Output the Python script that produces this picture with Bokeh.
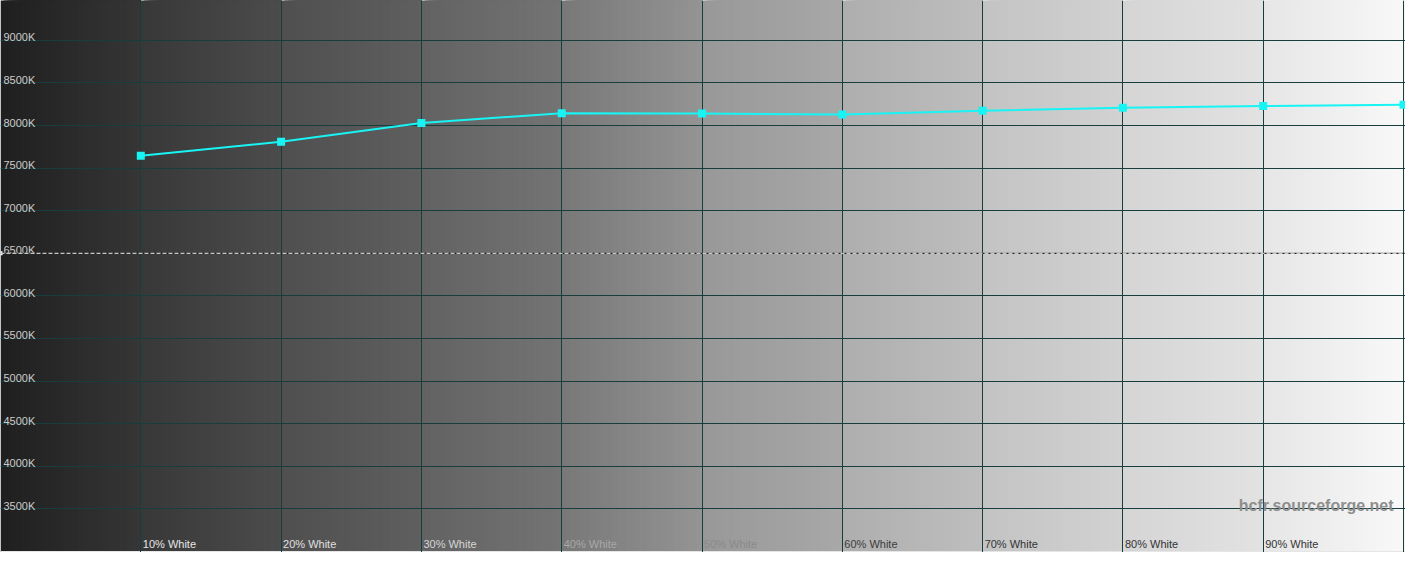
from bokeh.plotting import figure
from bokeh.models import Grid, FixedTicker, Span, ColumnDataSource, Range1d
from bokeh.core.properties import value
from bokeh.embed import file_html
from bokeh.resources import INLINE

# ---- data ----
levels = [10, 20, 30, 40, 50, 60, 70, 80, 90, 100]
cct_k = [7645, 7810, 8030, 8145, 8140, 8130, 8175, 8210, 8228, 8243]
x_ticks = [10, 20, 30, 40, 50, 60, 70, 80, 90, 100]
x_labels = ["10% White", "20% White", "30% White", "40% White", "50% White",
            "60% White", "70% White", "80% White", "90% White"]
y_ticks = [3500, 4000, 4500, 5000, 5500, 6000, 6500, 7000, 7500, 8000, 8500, 9000]
y_labels = ["3500K", "4000K", "4500K", "5000K", "5500K", "6000K", "6500K",
            "7000K", "7500K", "8000K", "8500K", "9000K"]
target_k = 6500
watermark = "hcfr.sourceforge.net"

X0, X1 = 0, 100.14
Y0, Y1 = 2987, 9468

W, H = 1405, 552
p = figure(width=W, height=H, output_backend="svg", toolbar_location=None,
           x_axis_location=None, y_axis_location=None,
           x_range=Range1d(X0, X1), y_range=Range1d(Y0, Y1))
p.min_border = 0
p.outline_line_color = None
p.background_fill_color = "#fafafa"
p.border_fill_color = "#fafafa"

# ---- background: per-band grey gradient (styling only) ----
band_start = [31, 56, 79, 98, 120, 152, 174, 195, 213, 230]
band_end = [54, 76, 95, 116, 148, 168, 190, 210, 226, 248]
lefts, rights, cols = [], [], []
n_slices = 40
for b in range(10):
    g0, g1 = band_start[b], band_end[b]
    for s in range(n_slices):
        l = b * 10 + 10 * s / n_slices
        g = int(round(g0 + (g1 - g0) * (s + 0.5) / n_slices))
        lefts.append(l)
        rights.append((b + 1) * 10 if b < 9 else X1 + 1)
        cols.append("#%02x%02x%02x" % (g, g, g))
bg = p.quad(left=lefts, right=rights, bottom=Y0 - 200, top=Y1 + 200,
            fill_color=cols, line_color=None)
bg.level = "image"

# ---- grid ----
grid_col = "#173d3d"
p.add_layout(Grid(dimension=0, ticker=FixedTicker(ticks=x_ticks),
                  grid_line_color=grid_col, grid_line_width=1))
p.add_layout(Grid(dimension=1, ticker=FixedTicker(ticks=y_ticks),
                  grid_line_color=grid_col, grid_line_width=1))

# target line (6500K) dashed white over dark
p.add_layout(Span(location=target_k, dimension="width", line_color="#1e1e1e",
                  line_width=1))
p.add_layout(Span(location=target_k, dimension="width", line_color="#f2f2f2",
                  line_width=1, line_dash="4 2"))
p.scatter([X0], [target_k], marker="square", size=4, fill_color="white",
          line_color=None)

# ---- y tick labels ----
p.text(x=[X0] * len(y_ticks), y=y_ticks, text=y_labels, x_offset=3, y_offset=-3,
       text_baseline="alphabetic", text_align="left", text_font=value("Liberation Sans"),
       text_font_size="11px", text_color="#cccccc")

# ---- x tick labels ----
def label_color(i):
    return ["#e6e6e6", "#e0e0e0", "#d6d6d6", "#a8a8a8", "#8a8a8a",
            "#3c3c3c", "#333333", "#333333", "#333333"][i]

xs = ColumnDataSource(dict(x=x_ticks[:len(x_labels)], y=[Y0] * len(x_labels),
                           t=x_labels, c=[label_color(i) for i in range(len(x_labels))]))
p.text(x="x", y="y", text="t", text_color="c", source=xs, x_offset=2, y_offset=-3,
       text_baseline="bottom", text_align="left", text_font=value("Liberation Sans"),
       text_font_size="11px")

# ---- watermark ----
p.text(x=[X1], y=[3500], text=[watermark], x_offset=-12, y_offset=-3,
       text_align="right", text_baseline="middle", text_font=value("Liberation Sans"),
       text_font_style="bold", text_font_size="16px", text_color="#8e8e8e")

# ---- data series ----
cyan = "#18f4f4"
p.line(levels, cct_k, line_color=cyan, line_width=2)
p.scatter(levels, cct_k, marker="square", size=8, fill_color=cyan, line_color=None)

open("out.html", "w").write(file_html(p, INLINE))
